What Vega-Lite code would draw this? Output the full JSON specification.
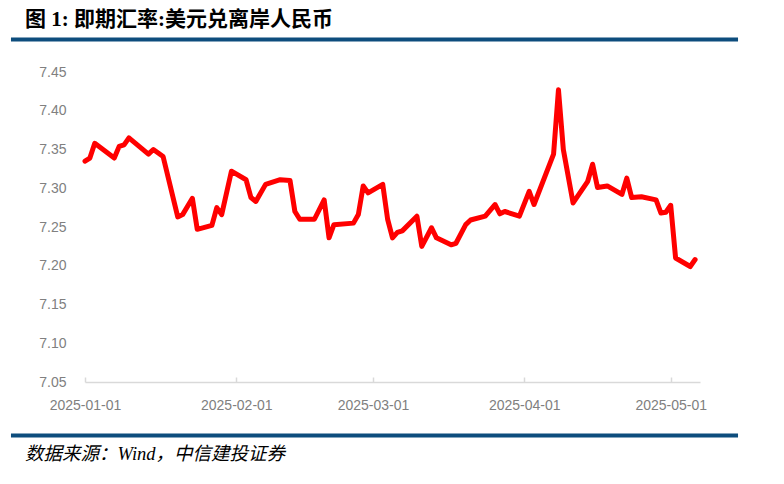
{
  "$schema": "https://vega.github.io/schema/vega-lite/v6.json",
  "width": 615,
  "height": 310,
  "autosize": {"type": "none"},
  "padding": {"left": 85, "top": 72, "right": 84, "bottom": 102},
  "background": "white",
  "config": {
    "view": {"stroke": null},
    "axis": {"labelOverlap": false, "labelFlush": false, "grid": false, "title": null, "labelColor": "#808080", "labelFont": "Liberation Sans", "labelFontSize": 14},
    "axisY": {"domain": false, "ticks": false, "labelPadding": 19, "values": [7.05, 7.1, 7.15, 7.2, 7.25, 7.3, 7.35, 7.4, 7.45], "format": ".2f"}
  },
  "datasets": {
    "rates": [
      {"date": "2025-01-01", "rate": 7.335},
      {"date": "2025-01-02", "rate": 7.339},
      {"date": "2025-01-03", "rate": 7.358},
      {"date": "2025-01-07", "rate": 7.339},
      {"date": "2025-01-08", "rate": 7.354},
      {"date": "2025-01-09", "rate": 7.356},
      {"date": "2025-01-10", "rate": 7.365},
      {"date": "2025-01-14", "rate": 7.344},
      {"date": "2025-01-15", "rate": 7.350},
      {"date": "2025-01-17", "rate": 7.341},
      {"date": "2025-01-20", "rate": 7.263},
      {"date": "2025-01-21", "rate": 7.266},
      {"date": "2025-01-23", "rate": 7.287},
      {"date": "2025-01-24", "rate": 7.247},
      {"date": "2025-01-27", "rate": 7.252},
      {"date": "2025-01-28", "rate": 7.275},
      {"date": "2025-01-29", "rate": 7.266},
      {"date": "2025-01-31", "rate": 7.322},
      {"date": "2025-02-03", "rate": 7.311},
      {"date": "2025-02-04", "rate": 7.288},
      {"date": "2025-02-05", "rate": 7.283},
      {"date": "2025-02-07", "rate": 7.305},
      {"date": "2025-02-10", "rate": 7.311},
      {"date": "2025-02-12", "rate": 7.310},
      {"date": "2025-02-13", "rate": 7.270},
      {"date": "2025-02-14", "rate": 7.260},
      {"date": "2025-02-17", "rate": 7.260},
      {"date": "2025-02-19", "rate": 7.285},
      {"date": "2025-02-20", "rate": 7.236},
      {"date": "2025-02-21", "rate": 7.253},
      {"date": "2025-02-25", "rate": 7.255},
      {"date": "2025-02-26", "rate": 7.266},
      {"date": "2025-02-27", "rate": 7.303},
      {"date": "2025-02-28", "rate": 7.294},
      {"date": "2025-03-03", "rate": 7.305},
      {"date": "2025-03-04", "rate": 7.260},
      {"date": "2025-03-05", "rate": 7.236},
      {"date": "2025-03-06", "rate": 7.243},
      {"date": "2025-03-07", "rate": 7.245},
      {"date": "2025-03-10", "rate": 7.264},
      {"date": "2025-03-11", "rate": 7.225},
      {"date": "2025-03-13", "rate": 7.249},
      {"date": "2025-03-14", "rate": 7.236},
      {"date": "2025-03-17", "rate": 7.227},
      {"date": "2025-03-18", "rate": 7.229},
      {"date": "2025-03-20", "rate": 7.253},
      {"date": "2025-03-21", "rate": 7.259},
      {"date": "2025-03-24", "rate": 7.264},
      {"date": "2025-03-26", "rate": 7.279},
      {"date": "2025-03-27", "rate": 7.267},
      {"date": "2025-03-28", "rate": 7.270},
      {"date": "2025-03-31", "rate": 7.264},
      {"date": "2025-04-02", "rate": 7.296},
      {"date": "2025-04-03", "rate": 7.279},
      {"date": "2025-04-07", "rate": 7.344},
      {"date": "2025-04-08", "rate": 7.427},
      {"date": "2025-04-09", "rate": 7.350},
      {"date": "2025-04-11", "rate": 7.281},
      {"date": "2025-04-14", "rate": 7.309},
      {"date": "2025-04-15", "rate": 7.331},
      {"date": "2025-04-16", "rate": 7.301},
      {"date": "2025-04-18", "rate": 7.303},
      {"date": "2025-04-21", "rate": 7.292},
      {"date": "2025-04-22", "rate": 7.313},
      {"date": "2025-04-23", "rate": 7.288},
      {"date": "2025-04-25", "rate": 7.289},
      {"date": "2025-04-28", "rate": 7.285},
      {"date": "2025-04-29", "rate": 7.268},
      {"date": "2025-04-30", "rate": 7.269},
      {"date": "2025-05-01", "rate": 7.278},
      {"date": "2025-05-02", "rate": 7.210},
      {"date": "2025-05-05", "rate": 7.199},
      {"date": "2025-05-06", "rate": 7.208}
    ],
    "header": [{"label": "图 1:  即期汇率:美元兑离岸人民币"}],
    "footer": [{"label": "数据来源：Wind，中信建投证券"}]
  },
  "layer": [
    {
      "data": {"name": "rates"},
      "mark": {"type": "line", "color": "#FF0000", "strokeWidth": 5, "strokeJoin": "round", "strokeCap": "round"},
      "encoding": {
        "x": {
          "field": "date", "type": "temporal",
          "scale": {"type": "utc", "domain": [{"year": 2025, "month": 1, "date": 1, "utc": true}, {"year": 2025, "month": 5, "date": 7, "utc": true}]},
          "axis": {
            "values": [
              {"year": 2025, "month": 1, "date": 1, "utc": true},
              {"year": 2025, "month": 2, "date": 1, "utc": true},
              {"year": 2025, "month": 3, "date": 1, "utc": true},
              {"year": 2025, "month": 4, "date": 1, "utc": true},
              {"year": 2025, "month": 5, "date": 1, "utc": true}
            ],
            "format": "%Y-%m-%d",
            "domainColor": "#D9D9D9",
            "domainWidth": 1.5,
            "tickColor": "#D9D9D9",
            "tickWidth": 1.5,
            "tickSize": -5,
            "labelPadding": 21
          }
        },
        "y": {
          "field": "rate", "type": "quantitative",
          "scale": {"domain": [7.05, 7.45], "nice": false, "zero": false}
        }
      }
    },
    {
      "data": {"name": "header"},
      "mark": {"type": "rule", "color": "#0D4D7D", "strokeWidth": 4},
      "encoding": {
        "x": {"datum": {"year": 2024, "month": 12, "date": 16, "hours": 20, "utc": true}, "type": "temporal"},
        "x2": {"datum": {"year": 2025, "month": 5, "date": 14, "hours": 19, "utc": true}},
        "y": {"datum": 7.4919, "type": "quantitative"}
      }
    },
    {
      "data": {"name": "footer"},
      "mark": {"type": "rule", "color": "#0D4D7D", "strokeWidth": 4},
      "encoding": {
        "x": {"datum": {"year": 2024, "month": 12, "date": 16, "hours": 20, "utc": true}, "type": "temporal"},
        "x2": {"datum": {"year": 2025, "month": 5, "date": 14, "hours": 19, "utc": true}},
        "y": {"datum": 6.981, "type": "quantitative"}
      }
    },
    {
      "data": {"name": "header"},
      "mark": {"type": "text", "align": "left", "baseline": "middle", "font": "Liberation Serif, Noto Sans CJK SC", "fontSize": 21, "fontWeight": "bold", "color": "#000000"},
      "encoding": {
        "x": {"datum": {"year": 2024, "month": 12, "date": 19, "hours": 17, "utc": true}, "type": "temporal"},
        "y": {"datum": 7.5177, "type": "quantitative"},
        "text": {"field": "label"}
      }
    },
    {
      "data": {"name": "footer"},
      "mark": {"type": "text", "align": "left", "baseline": "middle", "font": "Liberation Serif, Noto Sans CJK SC", "fontSize": 18.5, "fontStyle": "italic", "color": "#000000"},
      "encoding": {
        "x": {"datum": {"year": 2024, "month": 12, "date": 19, "hours": 17, "utc": true}, "type": "temporal"},
        "y": {"datum": 6.9565, "type": "quantitative"},
        "text": {"field": "label"}
      }
    }
  ]
}
